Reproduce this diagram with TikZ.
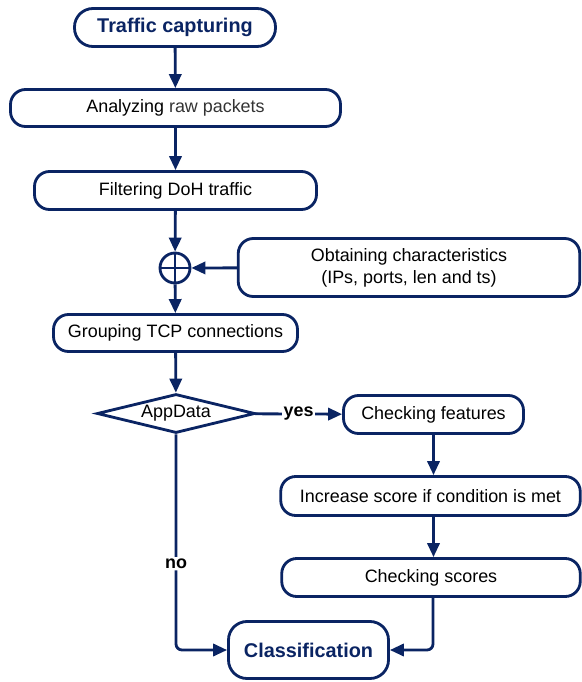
\documentclass[tikz,border=0pt]{standalone}
\usepackage{fontspec}
\setmainfont{Liberation Sans}
\usetikzlibrary{arrows.meta,shapes.geometric}
\definecolor{navy}{RGB}{10,36,99}
\begin{document}
\begin{tikzpicture}[
    box/.style={
        draw=navy,
        line width=1.6pt,
        rounded corners=0.3cm,
        minimum height=0.75cm,
        align=center,
        inner sep=2pt,
        font=\fontsize{10.2}{12.5}\selectfont
    },
    endbox/.style={
        box,
        rounded corners=0.37cm,
        text=navy,
        font=\fontsize{11.3}{13}\selectfont\bfseries
    },
    arrow/.style={-{Triangle[length=8pt,width=7pt]}, draw=navy, line width=1.6pt},
    lbl/.style={fill=white, inner sep=1pt, font=\fontsize{10.2}{12}\selectfont\bfseries}
]
\useasboundingbox (0,0) rectangle (11.64,-13.64);
%==========================
% main chain
%==========================
\node[endbox, minimum width=4.02cm, minimum height=0.76cm] (capture) at (3.50,-0.55) {Traffic capturing};
\node[box, minimum width=6.60cm, minimum height=0.74cm] (analyze) at (3.51,-2.16)
{Analyzing {\color{black!80}raw packets}};
\node[box, minimum width=5.64cm, minimum height=0.76cm] (filter) at (3.51,-3.81) {Filtering DoH traffic};

\node[circle, draw=navy, line width=1.6pt, minimum size=0.60cm, inner sep=0pt] (sum) at (3.50,-5.36) {};
\draw[navy, line width=1.6pt] (sum.north) -- (sum.south);
\draw[navy, line width=1.6pt] (sum.west) -- (sum.east);

\node[box, minimum width=6.83cm, minimum height=1.16cm] (obtain) at (8.18,-5.35)
{Obtaining characteristics\\(IPs, ports, len and ts)};
\node[box, minimum width=4.88cm, minimum height=0.74cm] (group) at (3.51,-6.66) {Grouping TCP connections};

\draw[arrow] (capture) -- (analyze);
\draw[arrow] (analyze) -- (filter);
\draw[arrow] (filter) -- (sum);
\draw[arrow] (obtain) -- (sum);
\draw[arrow] (sum) -- (group);

%==========================
% decision
%==========================
\node[diamond, draw=navy, line width=1.6pt, minimum width=3.16cm, minimum height=0.78cm,
      inner sep=0pt, aspect=4, font=\fontsize{10.2}{12}\selectfont] (appdata) at (3.52,-8.27) {AppData};
\node[box, minimum width=3.60cm, minimum height=0.76cm] (features) at (8.67,-8.29) {Checking features};
\node[box, minimum width=5.99cm, minimum height=0.78cm] (score) at (8.61,-9.92) {Increase score if condition is met};
\node[box, minimum width=5.97cm, minimum height=0.76cm] (check) at (8.62,-11.55) {Checking scores};
\node[endbox, minimum width=3.20cm, minimum height=1.14cm] (classify) at (6.17,-13.00) {Classification};

\draw[arrow] (group) -- (appdata);
\draw[arrow] (appdata) -- node[lbl] {yes} (features);
\draw[arrow] (features.south -| score.north) ++(0.06,0) coordinate (fs) -- (fs |- score.north);
\draw[arrow] (score.south) ++(0.06,0) coordinate (ss) -- (ss |- check.north);
\draw[arrow, rounded corners=0.12cm] (appdata.south) |- node[lbl, pos=0.3] {no} (classify.west);
\draw[arrow, rounded corners=0.12cm] (check.south) ++(0.04,0) coordinate (cs) |- (classify.east);

\end{tikzpicture}
\end{document}
